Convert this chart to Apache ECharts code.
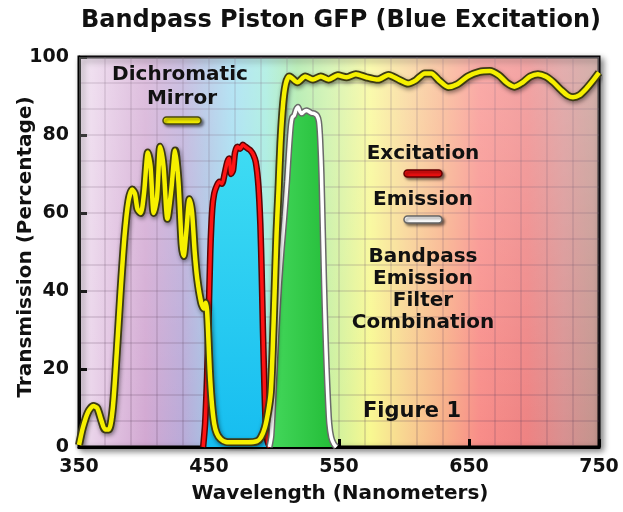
<!DOCTYPE html>
<html><head><meta charset="utf-8">
<script src="https://cdn.jsdelivr.net/npm/echarts@6/dist/echarts.min.js"></script>
<style>html,body{margin:0;padding:0;background:#fff}#c{width:623px;height:512px}</style>
</head><body><div id="c"></div>
<script>
// ---------- data ----------
const xTicks = [350, 450, 550, 650, 750];
const yTicks = [0, 20, 40, 60, 80, 100];

// Dichromatic mirror (yellow)
const mirrorWl = [350,353,357,361,364,367,370,373,376,379,382,385,388,391,393,395,397.5,400,403,405,407.5,410,412.5,415,418,421,424,426.5,429,430.5,432.5,435,437,439,441,444,446,447.5,448.5,449.5,450.5,452,454,456,459,463,470,480,487,490,493,495.5,497.5,499,500.5,502,503.5,505,507,509,511.5,513,518,524,530,536,542,549,556,563,571,580,588,596,603,609,616,621,627,634,641,649,658,666,673,679,685,691,697,703,709,715,721,726,730,735,740,745,750];
const mirrorT  = [0.5,5,9,10.5,10,7,4.5,4.5,10,24,40,54,63,66,65,61,60,65,75.5,72,60,64,77,72,58.5,66,76,68,52,49,55,63.5,60,50,43,37,35.5,37,35,28,20,12,6,3.5,2,1.3,1.2,1.2,1.5,2.5,5,9,14,25,40,55,66,78,88,93,95,94.8,93.5,95,94.2,95,94.2,95.3,94.8,95.6,94.8,94.2,95.4,94.2,93.2,94,95.8,95.8,94,92.3,93,95,96.2,96.4,95.3,93.4,92.4,93.4,95,95.6,95,93.5,91.5,90.1,89.7,90.2,91.8,93.8,96];

// Excitation filter (red)
const excWl = [445.5,447,448.5,449.5,451,452.5,454,456,458,460,462,464,465.5,467,468.5,470,472,474,476,478,480,482,484,486,488,489.5,490.5,491.5,492.5,493.5,495,497];
const excT  = [0,6,18,30,50,61,65,67,68,67.5,70,73,74,70,71,75.5,77,76.5,77.5,77,76.5,76,75,73,67,57,45,30,17,7,1.5,0];

// Emission filter (white)
const emWl = [496.5,498,500,502,504,506,508,510,511.5,513,514,515.5,517,518.5,520,521.5,523,525,527,529,531,533,534.5,535.5,536.5,537.5,538.5,539.5,540.5,541.5,542.5,544,546,548];
const emT  = [0,3,16,30,42,51,59,68,76,82.5,84.5,85,86.5,87.2,86,85.5,86,86.3,86,85.6,85.5,85,83.5,79,70,56,42,30,20,12,6,2.5,0.8,0];

const titleText = 'Bandpass Piston GFP (Blue Excitation)';
const xName = 'Wavelength (Nanometers)';
const yName = 'Transmission (Percentage)';

// ---------- build ----------
const zip = (a, b) => a.map((v, i) => [v, b[i]]);
const FONT = 'DejaVu Sans';
const gridC = 'rgba(90,60,90,0.17)';

const chart = echarts.init(document.getElementById('c'), null, {renderer: 'canvas'});

const bgGrad = new echarts.graphic.LinearGradient(0, 0, 1, 0, [
  {offset: 0.00, color: '#f0e0f0'},
  {offset: 0.06, color: '#e2c4e2'},
  {offset: 0.13, color: '#d2a8d2'},
  {offset: 0.20, color: '#baaad8'},
  {offset: 0.245, color: '#a9bfe2'},
  {offset: 0.30, color: '#9cdcf0'},
  {offset: 0.36, color: '#9ceadc'},
  {offset: 0.42, color: '#a4e8a0'},
  {offset: 0.48, color: '#c8f0a0'},
  {offset: 0.56, color: '#f8f890'},
  {offset: 0.63, color: '#f8d290'},
  {offset: 0.70, color: '#f8b088'},
  {offset: 0.77, color: '#f88c88'},
  {offset: 0.86, color: '#ee8282'},
  {offset: 0.93, color: '#d89090'},
  {offset: 1.00, color: '#c0948c'}
]);

function lineSeries(data, opts) {
  return Object.assign({
    type: 'line', data: data, smooth: 0.25, symbol: 'none', silent: true,
    animation: false
  }, opts);
}

const textEl = (t, x, y, size, extra) => Object.assign({
  type: 'text', x: x, y: y, silent: true, z: 100,
  style: {text: t, font: 'bold ' + size + 'px "' + FONT + '"', fill: '#111',
          align: 'center', verticalAlign: 'middle', textAlign: 'center', textVerticalAlign: 'middle'}
}, extra || {});

const barEl = (x, y, fill, stroke) => ({
  type: 'rect', z: 100, silent: true,
  shape: {x: x, y: y, width: 38, height: 7, r: 3.5},
  style: {fill: fill, stroke: stroke, lineWidth: 1.5, shadowBlur: 3, shadowColor: 'rgba(0,0,0,0.5)', shadowOffsetX: 2, shadowOffsetY: 2}
});

const option = {
  animation: false,
  backgroundColor: '#ffffff',
  grid: {
    left: 79, top: 57, width: 520, height: 390, show: true,
    backgroundColor: bgGrad, borderColor: '#000', borderWidth: 3,
    shadowColor: 'rgba(0,0,0,0.45)', shadowBlur: 6, shadowOffsetX: 3, shadowOffsetY: 3
  },
  xAxis: {
    type: 'value', min: xTicks[0], max: xTicks[xTicks.length - 1], interval: 100,
    axisLabel: {fontFamily: FONT, fontWeight: 'bold', fontSize: 19, color: '#111', margin: 11,
      formatter: v => xTicks.includes(v) ? String(v) : ''},
    axisLine: {show: true, onZero: false, lineStyle: {color: '#000', width: 3}},
    axisTick: {show: true, inside: true, length: 8, lineStyle: {color: '#000', width: 3}},
    splitLine: {show: true, lineStyle: {color: gridC, width: 2}},
    minorTick: {show: false, splitNumber: 5},
    minorSplitLine: {show: true, lineStyle: {color: gridC, width: 2}}
  },
  yAxis: {
    type: 'value', min: yTicks[0], max: yTicks[yTicks.length - 1], interval: 20,
    axisLabel: {fontFamily: FONT, fontWeight: 'bold', fontSize: 19, color: '#111', margin: 10,
      formatter: v => yTicks.includes(v) ? String(v) : ''},
    axisLine: {show: true, lineStyle: {color: '#000', width: 3}},
    axisTick: {show: true, inside: true, length: 8, lineStyle: {color: '#000', width: 3}},
    splitLine: {show: true, lineStyle: {color: gridC, width: 2}},
    minorTick: {show: false, splitNumber: 3},
    minorSplitLine: {show: true, lineStyle: {color: gridC, width: 2}}
  },
  series: [
    // soft light overlay at the top of the spectrum
    lineSeries([[xTicks[0], 0]], {
      lineStyle: {width: 0, opacity: 0}, z: 1,
      markArea: {silent: true, itemStyle: {
        color: new echarts.graphic.LinearGradient(0, 0, 0, 1, [
          {offset: 0, color: 'rgba(255,255,255,0.28)'},
          {offset: 1, color: 'rgba(255,255,255,0)'}])},
        data: [[{coord: [xTicks[0], yTicks[yTicks.length-1]]}, {coord: [xTicks[xTicks.length-1], yTicks[0]]}]]}
    }),
    // excitation: area + dark outline
    lineSeries(zip(excWl, excT), {
      z: 3,
      lineStyle: {color: '#5a0505', width: 6.5},
      areaStyle: {opacity: 1, color: new echarts.graphic.LinearGradient(0, 0, 0, 1, [
        {offset: 0, color: '#3fdcf3'}, {offset: 1, color: '#16bdf0'}])}
    }),
    lineSeries(zip(excWl, excT), {z: 4, lineStyle: {color: '#ff1414', width: 3.5}}),
    // emission: area + grey outline
    lineSeries(zip(emWl, emT), {
      z: 5,
      lineStyle: {color: '#6a6a6a', width: 6.5},
      areaStyle: {opacity: 1, color: new echarts.graphic.LinearGradient(0, 0, 1, 0, [
        {offset: 0, color: '#44d85c'}, {offset: 1, color: '#22bb36'}])}
    }),
    lineSeries(zip(emWl, emT), {z: 6, lineStyle: {color: '#ffffff', width: 3.5}}),
    // dichromatic mirror: dark halo + yellow
    lineSeries(zip(mirrorWl, mirrorT), {
      z: 7,
      lineStyle: {color: '#3c3a14', width: 8, shadowColor: 'rgba(0,0,0,0.45)', shadowBlur: 4, shadowOffsetX: 1, shadowOffsetY: 2}
    }),
    lineSeries(zip(mirrorWl, mirrorT), {z: 8, lineStyle: {color: '#f6f000', width: 4.5}})
  ],
  graphic: [
    textEl(titleText, 341, 21, 24),
    textEl(yName, 26, 247, 20, {rotation: Math.PI / 2}),
    textEl(xName, 340, 494, 20),
    textEl('Dichromatic', 180, 75, 20),
    textEl('Mirror', 182, 99, 20),
    barEl(163, 117, '#f6f000', '#4a4a10'),
    textEl('Excitation', 423, 154, 20),
    barEl(404, 170, '#ee1010', '#600'),
    textEl('Emission', 423, 200, 20),
    barEl(404, 216, '#ffffff', '#666'),
    textEl('Bandpass', 423, 257, 20),
    textEl('Emission', 423, 279, 20),
    textEl('Filter', 423, 301, 20),
    textEl('Combination', 423, 323, 20),
    textEl('Figure 1', 412, 412, 21)
  ]
};
chart.setOption(option);
</script>
</body></html>
